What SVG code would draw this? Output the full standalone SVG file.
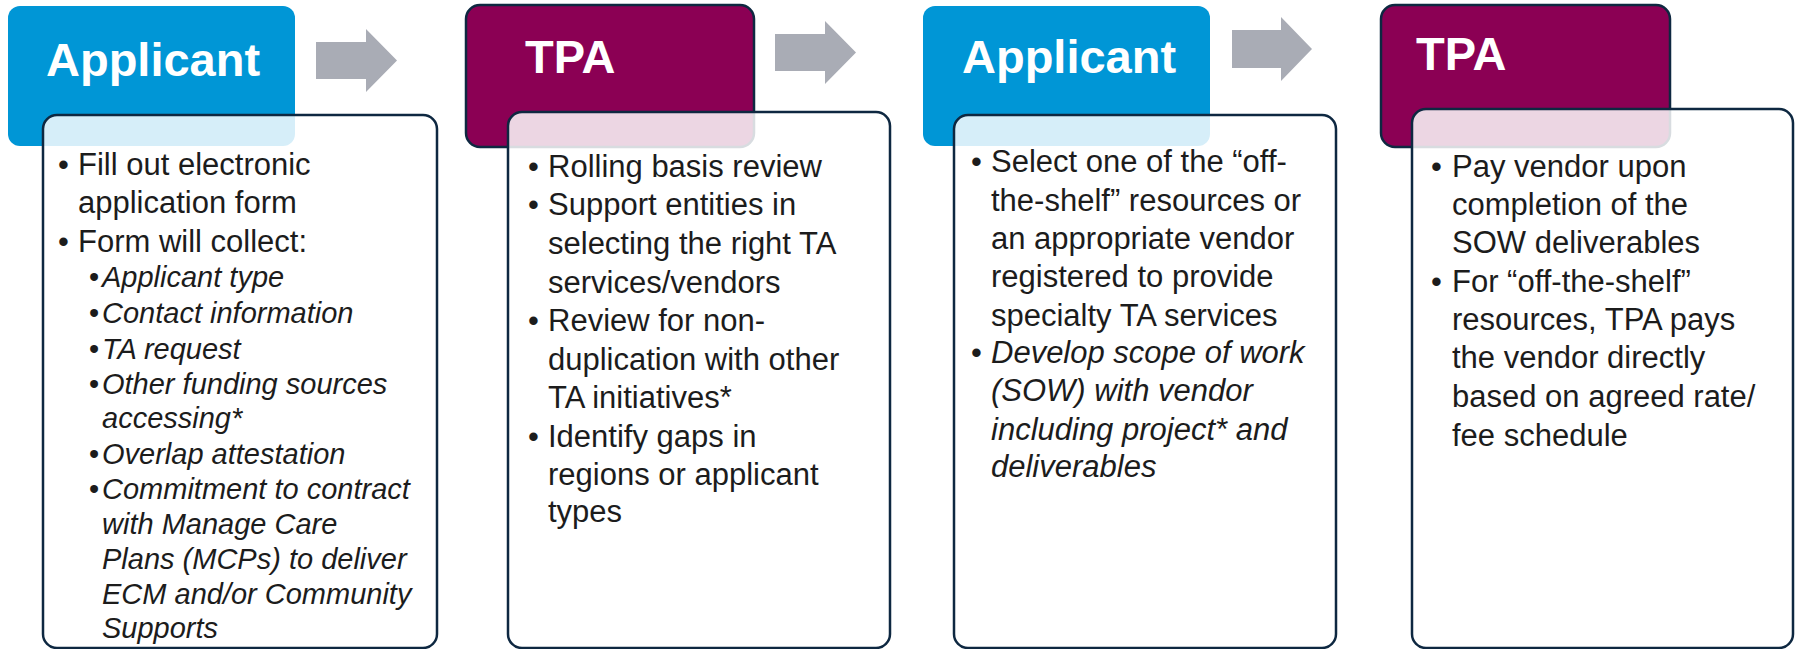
<svg xmlns="http://www.w3.org/2000/svg" width="1796" height="649" viewBox="0 0 1796 649">
<style>
.hdrA{fill:#0096d6}
.hdrT{fill:#8b0054;stroke:#0e2841;stroke-width:2.5}
.title{font-family:"Liberation Sans",Arial,sans-serif;font-weight:bold;font-size:47px;fill:#ffffff}
.box{fill:#ffffff;fill-opacity:0.84;stroke:#0e2841;stroke-width:2.5}
.t{font-family:"Liberation Sans",Arial,sans-serif;font-size:31px;fill:#1c1c1c}
.i{font-family:"Liberation Sans",Arial,sans-serif;font-size:31px;font-style:italic;fill:#1c1c1c}
.si{font-family:"Liberation Sans",Arial,sans-serif;font-size:29px;font-style:italic;fill:#1c1c1c}
.arrow{fill:#a9acb5}
</style>
<g id="connectors">
<polygon class="arrow" points="316,42 366,42 366,29 397,60.5 366,92 366,79 316,79"/>
<polygon class="arrow" points="775,34 825,34 825,21 856,52.5 825,84 825,71 775,71"/>
<polygon class="arrow" points="1232,30 1281,30 1281,17 1312,49 1281,81 1281,68 1232,68"/>
</g>
<g id="step1">
<rect class="hdrA" x="8" y="6" width="287" height="140" rx="12"/>
<text class="title" x="46" y="76">Applicant</text>
<rect class="box" x="43" y="115" width="394" height="533" rx="14"/>
<text class="t" x="58" y="175">•</text>
<text class="t" x="78" y="175">Fill out electronic</text>
<text class="t" x="78" y="213">application form</text>
<text class="t" x="58" y="252">•</text>
<text class="t" x="78" y="252">Form will collect:</text>
<g class="si">
<text x="89" y="287" font-style="normal">•</text><text x="102" y="287">Applicant type</text>
<text x="89" y="323" font-style="normal">•</text><text x="102" y="323">Contact information</text>
<text x="89" y="359" font-style="normal">•</text><text x="102" y="359">TA request</text>
<text x="89" y="394" font-style="normal">•</text><text x="102" y="394">Other funding sources</text>
<text x="102" y="428">accessing*</text>
<text x="89" y="464" font-style="normal">•</text><text x="102" y="464">Overlap attestation</text>
<text x="89" y="499" font-style="normal">•</text><text x="102" y="499">Commitment to contract</text>
<text x="102" y="534">with Manage Care</text>
<text x="102" y="569">Plans (MCPs) to deliver</text>
<text x="102" y="604">ECM and/or Community</text>
<text x="102" y="638">Supports</text>
</g>
</g>
<g id="step2">
<rect class="hdrT" x="466" y="5" width="288" height="142" rx="14"/>
<text class="title" x="525" y="73">TPA</text>
<rect class="box" x="508" y="112" width="382" height="536" rx="14"/>
<text class="t" x="528" y="177">•</text><text class="t" x="548" y="177">Rolling basis review</text>
<text class="t" x="528" y="215">•</text><text class="t" x="548" y="215">Support entities in</text>
<text class="t" x="548" y="254">selecting the right TA</text>
<text class="t" x="548" y="293">services/vendors</text>
<text class="t" x="528" y="331">•</text><text class="t" x="548" y="331">Review for non-</text>
<text class="t" x="548" y="370">duplication with other</text>
<text class="t" x="548" y="408">TA initiatives*</text>
<text class="t" x="528" y="447">•</text><text class="t" x="548" y="447">Identify gaps in</text>
<text class="t" x="548" y="485">regions or applicant</text>
<text class="t" x="548" y="522">types</text>
</g>
<g id="step3">
<rect class="hdrA" x="923" y="6" width="287" height="140" rx="12"/>
<text class="title" x="962" y="73">Applicant</text>
<rect class="box" x="954" y="115" width="382" height="533" rx="14"/>
<text class="t" x="971" y="172">•</text><text class="t" x="991" y="172">Select one of the “off-</text>
<text class="t" x="991" y="211">the-shelf” resources or</text>
<text class="t" x="991" y="249">an appropriate vendor</text>
<text class="t" x="991" y="287">registered to provide</text>
<text class="t" x="991" y="326">specialty TA services</text>
<text class="t" x="971" y="363">•</text><text class="i" x="991" y="363">Develop scope of work</text>
<text class="i" x="991" y="401">(SOW) with vendor</text>
<text class="i" x="991" y="440">including project* and</text>
<text class="i" x="991" y="477">deliverables</text>
</g>
<g id="step4">
<rect class="hdrT" x="1381" y="5" width="289" height="142" rx="14"/>
<text class="title" x="1416" y="70">TPA</text>
<rect class="box" x="1412" y="109" width="381" height="539" rx="14"/>
<text class="t" x="1431" y="177">•</text><text class="t" x="1452" y="177">Pay vendor upon</text>
<text class="t" x="1452" y="215">completion of the</text>
<text class="t" x="1452" y="253">SOW deliverables</text>
<text class="t" x="1431" y="292">•</text><text class="t" x="1452" y="292">For “off-the-shelf”</text>
<text class="t" x="1452" y="330">resources, TPA pays</text>
<text class="t" x="1452" y="368">the vendor directly</text>
<text class="t" x="1452" y="407">based on agreed rate/</text>
<text class="t" x="1452" y="446">fee schedule</text>
</g>
</svg>
